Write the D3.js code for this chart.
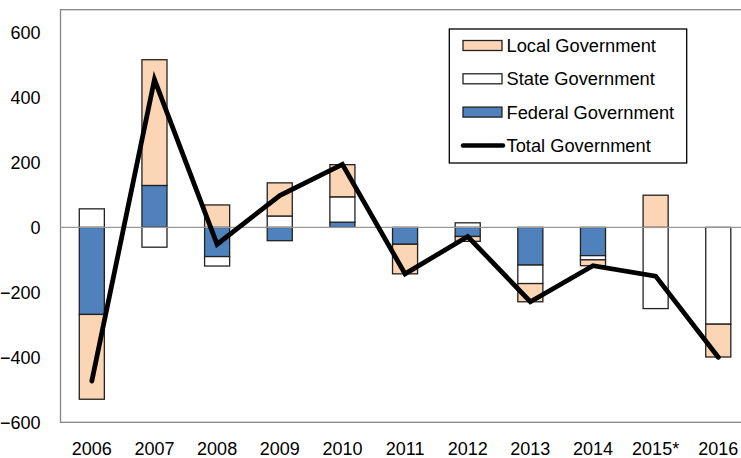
<!DOCTYPE html>
<html><head><meta charset="utf-8">
<script src="https://cdn.jsdelivr.net/npm/d3@7"></script>
<style>html,body{margin:0;padding:0;background:#fff;overflow:hidden}</style>
</head><body>
<svg id="c" width="741" height="458"></svg>
<script>
const categories = ["2006","2007","2008","2009","2010","2011","2012","2013","2014","2015*","2016"];
const federal = [-268, 129, -90, -41, 16, -52, -28, -116, -87, 0, 0];
const state   = [57, -61, -29, 35, 78, 0, 14, -57, -13, -250, -298];
const local   = [-261, 387, 69, 102, 99, -91, -15, -56, -18, 99, -101];
const total   = [-473, 455, -52, 98, 194, -143, -28, -229, -118, -150, -400];
const yTicks  = [-600, -400, -200, 0, 200, 400, 600];
const seriesNames = ["Federal Government", "State Government", "Local Government"];
const legendNames = ["Local Government", "State Government", "Federal Government", "Total Government"];

const colors = {"Federal Government":"#4F81BD","State Government":"#FFFFFF","Local Government":"#FCD5B5"};
const font = "'Liberation Sans', Arial, sans-serif";

const svg = d3.select("#c");
const pL = 60.5, pR = 749.6, pT = 9.7, pB = 422.3;

const x = d3.scaleBand().domain(categories).range([pL, pR]).paddingInner(0.6).paddingOuter(0.3);
const y = d3.scaleLinear().domain([-600, 670]).range([pB, pT]);

const rows = categories.map((c, i) => ({cat: c, "Federal Government": federal[i], "State Government": state[i], "Local Government": local[i]}));
const stack = d3.stack().keys(seriesNames).offset(d3.stackOffsetDiverging);
const layers = stack(rows);

// plot border
svg.append("rect").attr("x", pL).attr("y", pT).attr("width", pR - pL).attr("height", pB - pT)
  .attr("fill", "none").attr("stroke", "#868686").attr("stroke-width", 1.3);

// y axis labels
const yAxis = d3.axisLeft(y).tickValues(yTicks).tickSize(0).tickPadding(20).tickFormat(d3.format("d"));
const ga = svg.append("g").attr("transform", `translate(${pL},0)`).call(yAxis);
ga.select(".domain").remove();
ga.selectAll("text").attr("font-family", font).attr("font-size", 18).attr("fill", "#000");

// bars
layers.forEach(layer => {
  svg.append("g").selectAll("rect").data(layer.filter(d => d[1] - d[0] !== 0)).join("rect")
    .attr("x", d => x(d.data.cat))
    .attr("width", x.bandwidth())
    .attr("y", d => y(Math.max(d[0], d[1])))
    .attr("height", d => Math.abs(y(d[0]) - y(d[1])))
    .attr("fill", colors[layer.key])
    .attr("stroke", "#222").attr("stroke-width", 1.3);
});

// zero line
svg.append("line").attr("x1", pL).attr("x2", pR).attr("y1", y(0)).attr("y2", y(0))
  .attr("stroke", "#999").attr("stroke-width", 1.3);

// total line
const line = d3.line().x((d, i) => x(categories[i]) + x.bandwidth() / 2).y(d => y(d));
svg.append("path").datum(total).attr("d", line).attr("fill", "none")
  .attr("stroke", "#000").attr("stroke-width", 4.8).attr("stroke-linejoin", "miter").attr("stroke-linecap", "round");

// x axis labels
const xAxis = d3.axisBottom(x).tickSize(0).tickPadding(0);
const gx = svg.append("g").attr("transform", `translate(0,${pB})`).call(xAxis);
gx.select(".domain").remove();
gx.selectAll("text").attr("font-family", font).attr("font-size", 18).attr("fill", "#000")
  .attr("dy", null).attr("y", 33);

// legend
const lg = svg.append("g");
lg.append("rect").attr("x", 449.3).attr("y", 29).attr("width", 237.4).attr("height", 134)
  .attr("fill", "#fff").attr("stroke", "#000").attr("stroke-width", 1.3);
legendNames.forEach((n, i) => {
  const cy = 45.5 + i * 33.3;
  if (n === "Total Government") {
    lg.append("line").attr("x1", 463).attr("x2", 503).attr("y1", cy).attr("y2", cy)
      .attr("stroke", "#000").attr("stroke-width", 4.5).attr("stroke-linecap", "round");
  } else {
    lg.append("rect").attr("x", 463).attr("y", cy - 5).attr("width", 39).attr("height", 10)
      .attr("fill", colors[n]).attr("stroke", "#222").attr("stroke-width", 1.3);
  }
  lg.append("text").attr("x", 506.5).attr("y", cy).attr("dy", "0.36em")
    .attr("font-family", font).attr("font-size", 18.3).attr("fill", "#000").text(n);
});
</script>
</body></html>
